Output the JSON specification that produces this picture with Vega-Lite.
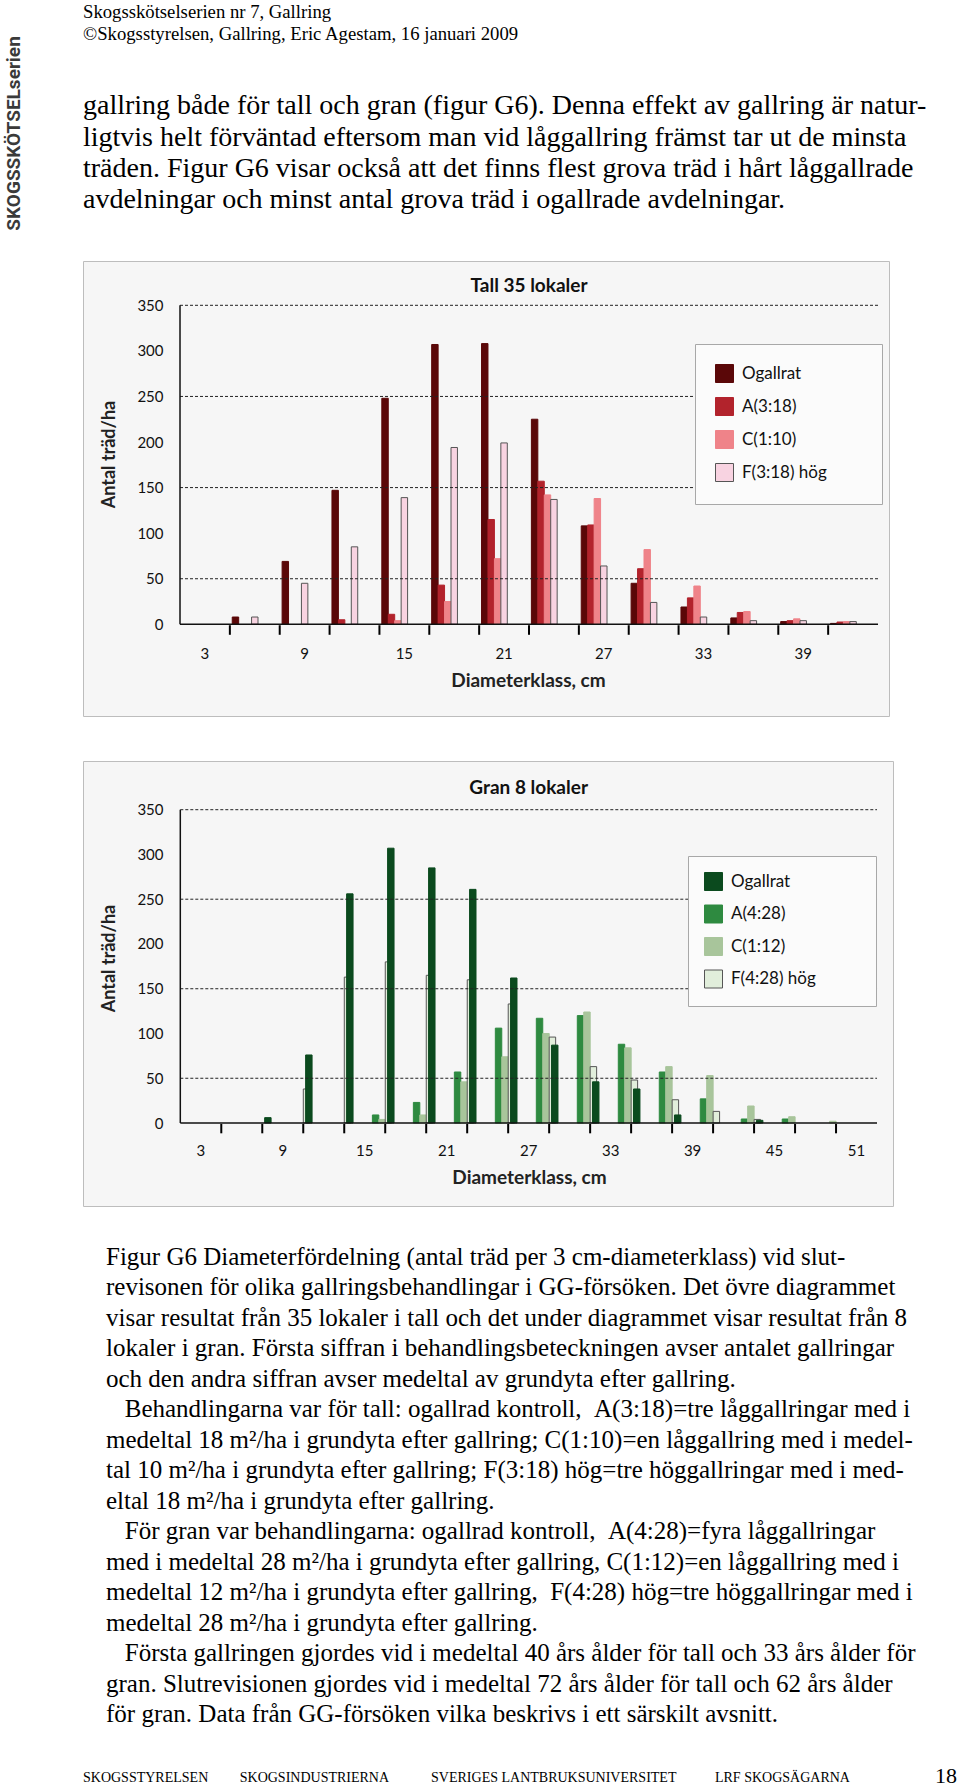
{
  "$schema": "https://vega.github.io/schema/vega-lite/v6.json",
  "background": "white",
  "padding": {"left": 4, "top": 2, "right": 0, "bottom": 0},
  "spacing": 37,
  "title": {"text": "SKOGSSKÖTSELserien", "orient": "left", "anchor": "end", "font": "Roboto", "fontSize": 19, "fontWeight": "bold", "color": "#3a3a3a", "offset": 59, "dx": -34},
  "config": {"view": {"stroke": null}},
  "resolve": {"scale": {"fill": "independent", "stroke": "independent"}, "legend": {"fill": "independent", "stroke": "independent"}},
  "datasets": {
    "tall": [
      {"d": 6, "t": "Ogallrat", "n": 8}, {"d": 6, "t": "F(3:18) hög", "n": 8},
      {"d": 9, "t": "Ogallrat", "n": 69}, {"d": 9, "t": "F(3:18) hög", "n": 45},
      {"d": 12, "t": "Ogallrat", "n": 147}, {"d": 12, "t": "A(3:18)", "n": 5}, {"d": 12, "t": "F(3:18) hög", "n": 85},
      {"d": 15, "t": "Ogallrat", "n": 248}, {"d": 15, "t": "A(3:18)", "n": 11}, {"d": 15, "t": "C(1:10)", "n": 4}, {"d": 15, "t": "F(3:18) hög", "n": 139},
      {"d": 18, "t": "Ogallrat", "n": 307}, {"d": 18, "t": "A(3:18)", "n": 43}, {"d": 18, "t": "C(1:10)", "n": 25}, {"d": 18, "t": "F(3:18) hög", "n": 194},
      {"d": 21, "t": "Ogallrat", "n": 308}, {"d": 21, "t": "A(3:18)", "n": 115}, {"d": 21, "t": "C(1:10)", "n": 72}, {"d": 21, "t": "F(3:18) hög", "n": 199},
      {"d": 24, "t": "Ogallrat", "n": 225}, {"d": 24, "t": "A(3:18)", "n": 157}, {"d": 24, "t": "C(1:10)", "n": 142}, {"d": 24, "t": "F(3:18) hög", "n": 137},
      {"d": 27, "t": "Ogallrat", "n": 108}, {"d": 27, "t": "A(3:18)", "n": 109}, {"d": 27, "t": "C(1:10)", "n": 138}, {"d": 27, "t": "F(3:18) hög", "n": 64},
      {"d": 30, "t": "Ogallrat", "n": 45}, {"d": 30, "t": "A(3:18)", "n": 61}, {"d": 30, "t": "C(1:10)", "n": 82}, {"d": 30, "t": "F(3:18) hög", "n": 24},
      {"d": 33, "t": "Ogallrat", "n": 19}, {"d": 33, "t": "A(3:18)", "n": 29}, {"d": 33, "t": "C(1:10)", "n": 42}, {"d": 33, "t": "F(3:18) hög", "n": 8},
      {"d": 36, "t": "Ogallrat", "n": 7}, {"d": 36, "t": "A(3:18)", "n": 13}, {"d": 36, "t": "C(1:10)", "n": 14}, {"d": 36, "t": "F(3:18) hög", "n": 4},
      {"d": 39, "t": "Ogallrat", "n": 3}, {"d": 39, "t": "A(3:18)", "n": 4}, {"d": 39, "t": "C(1:10)", "n": 6}, {"d": 39, "t": "F(3:18) hög", "n": 4},
      {"d": 42, "t": "Ogallrat", "n": 1}, {"d": 42, "t": "A(3:18)", "n": 2.5}, {"d": 42, "t": "C(1:10)", "n": 3}, {"d": 42, "t": "F(3:18) hög", "n": 3}
    ],
    "gran": [
      {"d": 9, "t": "Ogallrat", "n": 6}, {"d": 9, "t": "F(4:28) hög", "n": 38},
      {"d": 12, "t": "Ogallrat", "n": 76}, {"d": 12, "t": "F(4:28) hög", "n": 163},
      {"d": 15, "t": "Ogallrat", "n": 256}, {"d": 15, "t": "A(4:28)", "n": 9}, {"d": 15, "t": "C(1:12)", "n": 4}, {"d": 15, "t": "F(4:28) hög", "n": 180},
      {"d": 18, "t": "Ogallrat", "n": 307}, {"d": 18, "t": "A(4:28)", "n": 23}, {"d": 18, "t": "C(1:12)", "n": 9}, {"d": 18, "t": "F(4:28) hög", "n": 165},
      {"d": 21, "t": "Ogallrat", "n": 285}, {"d": 21, "t": "A(4:28)", "n": 57}, {"d": 21, "t": "C(1:12)", "n": 46}, {"d": 21, "t": "F(4:28) hög", "n": 160},
      {"d": 24, "t": "Ogallrat", "n": 261}, {"d": 24, "t": "A(4:28)", "n": 106}, {"d": 24, "t": "C(1:12)", "n": 74}, {"d": 24, "t": "F(4:28) hög", "n": 133},
      {"d": 27, "t": "Ogallrat", "n": 162}, {"d": 27, "t": "A(4:28)", "n": 117}, {"d": 27, "t": "C(1:12)", "n": 100}, {"d": 27, "t": "F(4:28) hög", "n": 96},
      {"d": 30, "t": "Ogallrat", "n": 87}, {"d": 30, "t": "A(4:28)", "n": 120}, {"d": 30, "t": "C(1:12)", "n": 124}, {"d": 30, "t": "F(4:28) hög", "n": 63},
      {"d": 33, "t": "Ogallrat", "n": 46}, {"d": 33, "t": "A(4:28)", "n": 88}, {"d": 33, "t": "C(1:12)", "n": 84}, {"d": 33, "t": "F(4:28) hög", "n": 48},
      {"d": 36, "t": "Ogallrat", "n": 38}, {"d": 36, "t": "A(4:28)", "n": 57}, {"d": 36, "t": "C(1:12)", "n": 63}, {"d": 36, "t": "F(4:28) hög", "n": 26},
      {"d": 39, "t": "Ogallrat", "n": 9}, {"d": 39, "t": "A(4:28)", "n": 27}, {"d": 39, "t": "C(1:12)", "n": 53}, {"d": 39, "t": "F(4:28) hög", "n": 13},
      {"d": 42, "t": "A(4:28)", "n": 4.5}, {"d": 42, "t": "C(1:12)", "n": 19}, {"d": 42, "t": "F(4:28) hög", "n": 4},
      {"d": 45, "t": "Ogallrat", "n": 3}, {"d": 45, "t": "A(4:28)", "n": 4.5}, {"d": 45, "t": "C(1:12)", "n": 7},
      {"d": 48, "t": "C(1:12)", "n": 2}
    ],
    "tallTicks": [{"d": 6}, {"d": 9}, {"d": 12}, {"d": 15}, {"d": 18}, {"d": 21}, {"d": 24}, {"d": 27}, {"d": 30}, {"d": 33}, {"d": 36}, {"d": 39}, {"d": 42}],
    "granTicks": [{"d": 6}, {"d": 9}, {"d": 12}, {"d": 15}, {"d": 18}, {"d": 21}, {"d": 24}, {"d": 27}, {"d": 30}, {"d": 33}, {"d": 36}, {"d": 39}, {"d": 42}, {"d": 45}, {"d": 48}, {"d": 51}],
    "grid": [{"g": 50}, {"g": 150}, {"g": 250}, {"g": 350}],
    "frame": [{"lo": 0, "hi": 350}]
  },
  "vconcat": [
    {
      "spacing": 43,
      "resolve": {"scale": {"fill": "independent", "stroke": "independent"}, "legend": {"fill": "independent", "stroke": "independent"}},
      "vconcat": [
        {
          "width": 806,
          "height": 455,
          "view": {"fill": "#f6f6f6", "stroke": "#bdbdbd"},
          "title": {
            "text": ["Skogsskötselserien nr 7, Gallring", "©Skogsstyrelsen, Gallring, Eric Agestam, 16 januari 2009"],
            "subtitle": ["gallring både för tall och gran (figur G6). Denna effekt av gallring är natur-", "ligtvis helt förväntad eftersom man vid låggallring främst tar ut de minsta", "träden. Figur G6 visar också att det finns flest grova träd i hårt låggallrade", "avdelningar och minst antal grova träd i ogallrade avdelningar."],
            "anchor": "start", "frame": "group",
            "font": "Liberation Serif", "fontSize": 18.7, "fontWeight": "normal", "lineHeight": 22, "color": "#000",
            "subtitleFont": "Liberation Serif", "subtitleFontSize": 28, "subtitleLineHeight": 31.2, "subtitleColor": "#000",
            "subtitlePadding": 49, "offset": 47
          },
          "resolve": {"axis": {"x": "independent"}},
          "layer": [
            {
              "data": {"name": "tall"},
              "mark": {"type": "bar", "strokeWidth": 1},
              "encoding": {
                "x": {"field": "d", "type": "ordinal",
                  "scale": {"type": "band", "domain": [0, 3, 6, 9, 12, 15, 18, 21, 24, 27, 30, 33, 36, 39, 42], "paddingInner": 0, "paddingOuter": 0.583, "align": 0.811},
                  "axis": {"orient": "bottom", "offset": -92, "domain": false, "grid": false, "ticks": false, "tickSize": 0,
                    "values": [3, 9, 15, 21, 27, 33, 39],
                    "labelAngle": 0, "labelPadding": 22, "labelFont": "Lato", "labelFontSize": 15, "labelColor": "#111",
                    "title": "Diameterklass, cm", "titleFont": "Lato", "titleFontSize": 19, "titleFontWeight": "bold", "titleColor": "#222", "titlePadding": 10, "titleX": 445}},
                "xOffset": {"field": "t", "type": "nominal", "scale": {"domain": ["Ogallrat", "A(3:18)", "C(1:10)", "F(3:18) hög"], "paddingInner": 0, "paddingOuter": 0.37}},
                "y": {"field": "n", "type": "quantitative", "stack": null,
                  "scale": {"domain": [-100.6, 398.6], "nice": false, "zero": false},
                  "axis": {"values": [0, 50, 100, 150, 200, 250, 300, 350], "offset": -97, "domain": false, "ticks": false, "tickSize": 0, "grid": false,
                    "labelPadding": 17, "labelFont": "Lato", "labelFontSize": 15, "labelColor": "#111",
                    "title": "Antal träd/ha", "titleFont": "Lato", "titleFontSize": 18, "titleFontWeight": "bold", "titleColor": "#222", "titlePadding": 18, "titleY": 193}},
                "y2": {"datum": 0},
                "fill": {"field": "t", "type": "nominal",
                  "scale": {"domain": ["Ogallrat", "A(3:18)", "C(1:10)", "F(3:18) hög"], "range": ["#5a0708", "#b2232c", "#ef8389", "#f8d3e1"]},
                  "legend": {"title": null, "orient": "none", "legendX": 612, "legendY": 83, "padding": 20, "fillColor": "#fbfbfb", "strokeColor": "#a8a8a8",
                    "symbolType": "square", "symbolSize": 324, "symbolStrokeWidth": 1, "labelFont": "Lato", "labelFontSize": 17, "labelColor": "#111",
                    "labelOffset": 8, "rowPadding": 10, "labelExpr": "datum.label + '\u00a0\u00a0\u00a0\u00a0\u00a0\u00a0\u00a0\u00a0\u200b'"}},
                "stroke": {"field": "t", "type": "nominal",
                  "scale": {"domain": ["Ogallrat", "A(3:18)", "C(1:10)", "F(3:18) hög"], "range": ["#5a0708", "#b2232c", "#ef8389", "#555555"]},
                  "legend": {"title": null, "orient": "none", "legendX": 612, "legendY": 83, "padding": 20, "fillColor": "#fbfbfb", "strokeColor": "#a8a8a8",
                    "symbolType": "square", "symbolSize": 324, "symbolStrokeWidth": 1, "labelFont": "Lato", "labelFontSize": 17, "labelColor": "#111",
                    "labelOffset": 8, "rowPadding": 10, "labelExpr": "datum.label + '\u00a0\u00a0\u00a0\u00a0\u00a0\u00a0\u00a0\u00a0\u200b'"}}
              }
            },
            {
              "data": {"name": "grid"},
              "mark": {"type": "rule", "strokeDash": [3, 2], "color": "#222", "strokeWidth": 1},
              "encoding": {
                "x": {"datum": 3, "type": "ordinal", "bandPosition": 0, "axis": null},
                "x2": {"datum": 42, "bandPosition": 1},
                "y": {"field": "g", "type": "quantitative"}
              }
            },
            {
              "data": {"name": "tallTicks"},
              "mark": {"type": "rule", "color": "#000", "strokeWidth": 2},
              "encoding": {
                "x": {"field": "d", "type": "ordinal", "bandPosition": 0, "axis": null},
                "y": {"datum": -1, "type": "quantitative"},
                "y2": {"datum": -11.5}
              }
            },
            {
              "data": {"name": "frame"},
              "mark": {"type": "rule", "color": "#111", "strokeWidth": 1.5},
              "encoding": {
                "x": {"datum": 3, "type": "ordinal", "bandPosition": 0, "axis": null},
                "x2": {"datum": 42, "bandPosition": 1},
                "y": {"field": "lo", "type": "quantitative"}
              }
            },
            {
              "data": {"name": "frame"},
              "mark": {"type": "rule", "color": "#111", "strokeWidth": 1.5},
              "encoding": {
                "x": {"datum": 3, "type": "ordinal", "bandPosition": 0, "axis": null},
                "y": {"field": "lo", "type": "quantitative"},
                "y2": {"field": "hi"}
              }
            },
            {
              "data": {"values": [{"label": "Tall 35 lokaler"}]},
              "mark": {"type": "text", "font": "Lato", "fontSize": 19, "fontWeight": "bold", "color": "#111", "align": "center", "baseline": "middle"},
              "encoding": {
                "x": {"datum": 24, "type": "ordinal", "bandPosition": 0, "axis": null},
                "y": {"datum": 371, "type": "quantitative"},
                "text": {"field": "label"}
              }
            }
          ]
        },
        {
          "width": 810,
          "height": 445,
          "view": {"fill": "#f6f6f6", "stroke": "#bdbdbd"},
          "resolve": {"axis": {"x": "independent"}},
          "layer": [
            {
              "data": {"name": "gran"},
              "mark": {"type": "bar", "strokeWidth": 1},
              "encoding": {
                "x": {"field": "d", "type": "ordinal",
                  "scale": {"type": "band", "domain": [0, 3, 6, 9, 12, 15, 18, 21, 24, 27, 30, 33, 36, 39, 42, 45, 48, 51], "paddingInner": 0, "paddingOuter": 0.882, "align": 0.779},
                  "axis": {"orient": "bottom", "offset": -83, "domain": false, "grid": false, "ticks": false, "tickSize": 0,
                    "values": [3, 9, 15, 21, 27, 33, 39, 45, 51],
                    "labelAngle": 0, "labelPadding": 20.5, "labelFont": "Lato", "labelFontSize": 15, "labelColor": "#111",
                    "title": "Diameterklass, cm", "titleFont": "Lato", "titleFontSize": 19, "titleFontWeight": "bold", "titleColor": "#222", "titlePadding": 10, "titleX": 446}},
                "xOffset": {"field": "t", "type": "nominal", "scale": {"domain": ["Ogallrat", "A(4:28)", "C(1:12)", "F(4:28) hög"], "paddingInner": 0, "paddingOuter": 0.36}},
                "y": {"field": "n", "type": "quantitative", "stack": null,
                  "scale": {"domain": [-92.7, 404.4], "nice": false, "zero": false},
                  "axis": {"values": [0, 50, 100, 150, 200, 250, 300, 350], "offset": -97, "domain": false, "ticks": false, "tickSize": 0, "grid": false,
                    "labelPadding": 17, "labelFont": "Lato", "labelFontSize": 15, "labelColor": "#111",
                    "title": "Antal träd/ha", "titleFont": "Lato", "titleFontSize": 18, "titleFontWeight": "bold", "titleColor": "#222", "titlePadding": 18, "titleY": 197}},
                "y2": {"datum": 0},
                "fill": {"field": "t", "type": "nominal",
                  "scale": {"domain": ["Ogallrat", "A(4:28)", "C(1:12)", "F(4:28) hög"], "range": ["#0b4a1e", "#2e8a40", "#a8c59b", "#e1eedb"]},
                  "legend": {"title": null, "orient": "none", "legendX": 605, "legendY": 95, "padding": 16, "fillColor": "#fbfbfb", "strokeColor": "#a8a8a8",
                    "symbolType": "square", "symbolSize": 324, "symbolStrokeWidth": 1, "labelFont": "Lato", "labelFontSize": 17, "labelColor": "#111",
                    "labelOffset": 8, "rowPadding": 9.5, "labelExpr": "datum.label + '\u00a0\u00a0\u00a0\u00a0\u00a0\u00a0\u00a0\u00a0\u00a0\u00a0\u200b'"}},
                "stroke": {"field": "t", "type": "nominal",
                  "scale": {"domain": ["Ogallrat", "A(4:28)", "C(1:12)", "F(4:28) hög"], "range": ["#0b4a1e", "#2e8a40", "#a8c59b", "#555555"]},
                  "legend": {"title": null, "orient": "none", "legendX": 605, "legendY": 95, "padding": 16, "fillColor": "#fbfbfb", "strokeColor": "#a8a8a8",
                    "symbolType": "square", "symbolSize": 324, "symbolStrokeWidth": 1, "labelFont": "Lato", "labelFontSize": 17, "labelColor": "#111",
                    "labelOffset": 8, "rowPadding": 9.5, "labelExpr": "datum.label + '\u00a0\u00a0\u00a0\u00a0\u00a0\u00a0\u00a0\u00a0\u00a0\u00a0\u200b'"}}
              }
            },
            {
              "data": {"name": "grid"},
              "mark": {"type": "rule", "strokeDash": [3, 2], "color": "#222", "strokeWidth": 1},
              "encoding": {
                "x": {"datum": 3, "type": "ordinal", "bandPosition": 0, "axis": null},
                "x2": {"datum": 51, "bandPosition": 1},
                "y": {"field": "g", "type": "quantitative"}
              }
            },
            {
              "data": {"name": "granTicks"},
              "mark": {"type": "rule", "color": "#000", "strokeWidth": 2},
              "encoding": {
                "x": {"field": "d", "type": "ordinal", "bandPosition": 0, "axis": null},
                "y": {"datum": -1, "type": "quantitative"},
                "y2": {"datum": -11.5}
              }
            },
            {
              "data": {"name": "frame"},
              "mark": {"type": "rule", "color": "#111", "strokeWidth": 1.5},
              "encoding": {
                "x": {"datum": 3, "type": "ordinal", "bandPosition": 0, "axis": null},
                "x2": {"datum": 51, "bandPosition": 1},
                "y": {"field": "lo", "type": "quantitative"}
              }
            },
            {
              "data": {"name": "frame"},
              "mark": {"type": "rule", "color": "#111", "strokeWidth": 1.5},
              "encoding": {
                "x": {"datum": 3, "type": "ordinal", "bandPosition": 0, "axis": null},
                "y": {"field": "lo", "type": "quantitative"},
                "y2": {"field": "hi"}
              }
            },
            {
              "data": {"values": [{"label": "Gran 8 lokaler"}]},
              "mark": {"type": "text", "font": "Lato", "fontSize": 19, "fontWeight": "bold", "color": "#111", "align": "center", "baseline": "middle"},
              "encoding": {
                "x": {"datum": 27, "type": "ordinal", "bandPosition": 0.5, "axis": null},
                "y": {"datum": 374, "type": "quantitative"},
                "text": {"field": "label"}
              }
            }
          ]
        }
      ]
    },
    {
      "spacing": 36.5,
      "vconcat": [
        {
          "width": 800,
          "height": 1,
          "data": {"values": []},
          "mark": "point",
          "title": {
            "text": [
              "Figur G6 Diameterfördelning (antal träd per 3 cm-diameterklass) vid slut-",
              "revisonen för olika gallringsbehandlingar i GG-försöken. Det övre diagrammet",
              "visar resultat från 35 lokaler i tall och det under diagrammet visar resultat från 8",
              "lokaler i gran. Första siffran i behandlingsbeteckningen avser antalet gallringar",
              "och den andra siffran avser medeltal av grundyta efter gallring.",
              "\u200b\u00a0\u00a0\u00a0Behandlingarna var för tall: ogallrad kontroll, \u00a0A(3:18)=tre låggallringar med i",
              "medeltal 18 m²/ha i grundyta efter gallring; C(1:10)=en låggallring med i medel-",
              "tal 10 m²/ha i grundyta efter gallring; F(3:18) hög=tre höggallringar med i med-",
              "eltal 18 m²/ha i grundyta efter gallring.",
              "\u200b\u00a0\u00a0\u00a0För gran var behandlingarna: ogallrad kontroll, \u00a0A(4:28)=fyra låggallringar",
              "med i medeltal 28 m²/ha i grundyta efter gallring, C(1:12)=en låggallring med i",
              "medeltal 12 m²/ha i grundyta efter gallring, \u00a0F(4:28) hög=tre höggallringar med i",
              "medeltal 28 m²/ha i grundyta efter gallring.",
              "\u200b\u00a0\u00a0\u00a0Första gallringen gjordes vid i medeltal 40 års ålder för tall och 33 års ålder för",
              "gran. Slutrevisionen gjordes vid i medeltal 72 års ålder för tall och 62 års ålder",
              "för gran. Data från GG-försöken vilka beskrivs i ett särskilt avsnitt."
            ],
            "anchor": "start", "frame": "group", "dx": 23,
            "font": "Liberation Serif", "fontSize": 25, "fontWeight": "normal", "lineHeight": 30.5, "color": "#000", "offset": 0
          }
        },
        {
          "spacing": 52,
          "hconcat": [
            {
              "width": 800,
              "height": 1,
              "data": {"values": []},
              "mark": "point",
              "title": {
                "text": "SKOGSSTYRELSEN\u00a0\u00a0\u00a0\u00a0\u00a0\u00a0\u00a0\u00a0\u00a0SKOGSINDUSTRIERNA\u00a0\u00a0\u00a0\u00a0\u00a0\u00a0\u00a0\u00a0\u00a0\u00a0\u00a0\u00a0SVERIGES LANTBRUKSUNIVERSITET\u00a0\u00a0\u00a0\u00a0\u00a0\u00a0\u00a0\u00a0\u00a0\u00a0\u00a0LRF SKOGSÄGARNA",
                "anchor": "start", "frame": "group",
                "font": "Liberation Serif", "fontSize": 14, "fontWeight": "normal", "color": "#000", "offset": 0
              }
            },
            {
              "width": 20,
              "height": 1,
              "data": {"values": []},
              "mark": "point",
              "title": {"text": "18", "anchor": "start", "frame": "group", "font": "Liberation Serif", "fontSize": 22, "fontWeight": "normal", "color": "#000", "offset": 0, "dy": 3}
            }
          ]
        }
      ]
    }
  ]
}
